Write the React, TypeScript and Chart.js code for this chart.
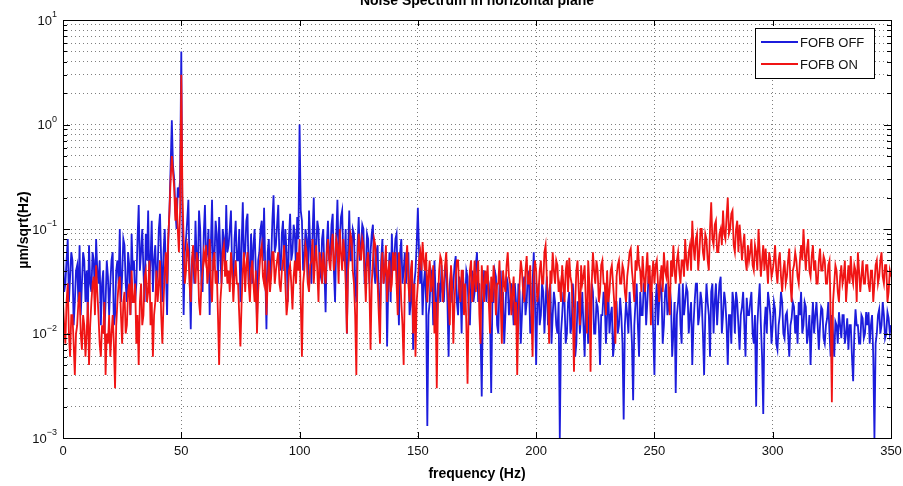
import React, { useEffect, useRef } from 'react';
import { Chart, registerables } from 'chart.js';

Chart.register(...registerables);

const TITLE = 'Noise Spectrum in horizontal plane';
const X_LABEL = 'frequency (Hz)';
const Y_LABEL = 'µm/sqrt(Hz)';
const SERIES_NAMES = ['FOFB OFF', 'FOFB ON'];
const X_MIN = 0;
const X_MAX = 350;
const X_STEP = 50;
const Y_MIN = 0.001;
const Y_MAX = 10;
const Y_DECADE_EXPONENTS = [1, 0, -1, -2, -3];
const FREQ_START_HZ = 0;
const FREQ_STEP_HZ = 0.5;

// amplitude spectrum, FOFB OFF (µm/sqrt(Hz)), one value per 0.5 Hz from 0 to 350 Hz (10 Hz per row)
const FOFB_OFF = [
  0.06, 0.025, 0.03, 0.05, 0.08, 0.02, 0.035, 0.06, 0.05, 0.012, 0.02, 0.04, 0.045, 0.02, 0.07, 0.015, 0.03, 0.06, 0.05, 0.02,
  0.04, 0.015, 0.07, 0.03, 0.025, 0.06, 0.05, 0.02, 0.08, 0.04, 0.03, 0.05, 0.012, 0.03, 0.04, 0.01, 0.02, 0.05, 0.035, 0.015,
  0.03, 0.05, 0.06, 0.012, 0.015, 0.04, 0.05, 0.03, 0.1, 0.02, 0.035, 0.08, 0.07, 0.03, 0.02, 0.06, 0.045, 0.015, 0.09, 0.04,
  0.05, 0.02, 0.03, 0.08, 0.17, 0.04, 0.06, 0.1, 0.04, 0.02, 0.09, 0.05, 0.15, 0.03, 0.05, 0.12, 0.025, 0.05, 0.07, 0.03,
  0.04, 0.1, 0.14, 0.05, 0.02, 0.06, 0.1, 0.04, 0.015, 0.08, 0.15, 0.4, 1.1, 0.4, 0.3, 0.15, 0.1, 0.25, 0.2, 0.3,
  5.0, 0.1, 0.015, 0.06, 0.08, 0.12, 0.19, 0.04, 0.011, 0.05, 0.06, 0.03, 0.12, 0.05, 0.04, 0.15, 0.1, 0.03, 0.025, 0.09,
  0.17, 0.05, 0.06, 0.1, 0.015, 0.07, 0.19, 0.04, 0.05, 0.12, 0.09, 0.03, 0.13, 0.06, 0.03, 0.1, 0.08, 0.04, 0.17, 0.06,
  0.07, 0.1, 0.15, 0.04, 0.03, 0.08, 0.12, 0.05, 0.05, 0.1, 0.02, 0.07, 0.18, 0.05, 0.06, 0.12, 0.14, 0.03, 0.04, 0.09,
  0.03, 0.07, 0.1, 0.04, 0.013, 0.05, 0.06, 0.1, 0.12, 0.05, 0.16, 0.04, 0.011, 0.06, 0.08, 0.03, 0.05, 0.12, 0.21, 0.06,
  0.07, 0.11, 0.17, 0.05, 0.04, 0.09, 0.12, 0.04, 0.1, 0.06, 0.02, 0.08, 0.14, 0.05, 0.06, 0.11, 0.09, 0.04, 0.13, 0.08,
  1.0, 0.15, 0.12, 0.04, 0.05, 0.1, 0.08, 0.03, 0.15, 0.07, 0.03, 0.09, 0.2, 0.05, 0.06, 0.12, 0.1, 0.04, 0.035, 0.08,
  0.1, 0.04, 0.016, 0.07, 0.12, 0.05, 0.06, 0.11, 0.14, 0.04, 0.02, 0.08, 0.19, 0.06, 0.08, 0.13, 0.15, 0.05, 0.05, 0.1,
  0.01, 0.06, 0.15, 0.05, 0.05, 0.1, 0.09, 0.03, 0.02, 0.07, 0.13, 0.05, 0.07, 0.11, 0.1, 0.03, 0.04, 0.09, 0.08, 0.03,
  0.06, 0.09, 0.11, 0.04, 0.03, 0.06, 0.07, 0.02, 0.015, 0.05, 0.08, 0.03, 0.04, 0.06, 0.0075, 0.03, 0.06, 0.02, 0.09, 0.04,
  0.05, 0.08, 0.09, 0.03, 0.012, 0.06, 0.08, 0.03, 0.04, 0.06, 0.03, 0.05, 0.06, 0.015, 0.02, 0.05, 0.007, 0.03, 0.04, 0.07,
  0.16, 0.06, 0.03, 0.05, 0.015, 0.03, 0.04, 0.02, 0.0013, 0.015, 0.02, 0.04, 0.035, 0.012, 0.05, 0.025, 0.01, 0.03, 0.03, 0.02,
  0.045, 0.025, 0.02, 0.04, 0.05, 0.02, 0.006, 0.03, 0.04, 0.02, 0.03, 0.045, 0.055, 0.02, 0.015, 0.035, 0.03, 0.01, 0.04, 0.025,
  0.02, 0.04, 0.035, 0.015, 0.012, 0.03, 0.04, 0.02, 0.025, 0.045, 0.06, 0.02, 0.03, 0.01, 0.0025, 0.02, 0.04, 0.03, 0.02, 0.035,
  0.03, 0.015, 0.0027, 0.02, 0.02, 0.04, 0.035, 0.012, 0.01, 0.03, 0.04, 0.02, 0.025, 0.008, 0.015, 0.035, 0.03, 0.015, 0.02, 0.03,
  0.02, 0.012, 0.03, 0.02, 0.01, 0.03, 0.025, 0.008, 0.015, 0.03, 0.035, 0.015, 0.02, 0.04, 0.03, 0.01, 0.012, 0.03, 0.06, 0.02,
  0.005, 0.02, 0.03, 0.012, 0.015, 0.03, 0.025, 0.01, 0.02, 0.035, 0.012, 0.025, 0.03, 0.008, 0.015, 0.025, 0.02, 0.012, 0.01, 0.02,
  0.001, 0.01, 0.015, 0.025, 0.02, 0.008, 0.01, 0.02, 0.025, 0.01, 0.012, 0.03, 0.018, 0.006, 0.008, 0.02, 0.02, 0.01, 0.015, 0.025,
  0.012, 0.006, 0.02, 0.015, 0.008, 0.02, 0.015, 0.03, 0.025, 0.01, 0.01, 0.02, 0.018, 0.012, 0.005, 0.015, 0.015, 0.025, 0.02, 0.008,
  0.015, 0.025, 0.01, 0.015, 0.018, 0.006, 0.008, 0.02, 0.02, 0.01, 0.012, 0.022, 0.015, 0.008, 0.0015, 0.012, 0.02, 0.015, 0.01, 0.025,
  0.015, 0.008, 0.0023, 0.012, 0.02, 0.03, 0.012, 0.006, 0.025, 0.015, 0.015, 0.03, 0.03, 0.012, 0.02, 0.035, 0.035, 0.015, 0.025, 0.01,
  0.004, 0.02, 0.03, 0.012, 0.02, 0.03, 0.025, 0.008, 0.012, 0.025, 0.03, 0.015, 0.018, 0.028, 0.02, 0.006, 0.01, 0.02, 0.0027, 0.015,
  0.02, 0.03, 0.012, 0.008, 0.03, 0.015, 0.02, 0.028, 0.025, 0.01, 0.015, 0.02, 0.005, 0.012, 0.02, 0.03, 0.03, 0.012, 0.015, 0.025,
  0.02, 0.01, 0.004, 0.015, 0.03, 0.02, 0.015, 0.006, 0.025, 0.03, 0.01, 0.02, 0.03, 0.012, 0.02, 0.03, 0.035, 0.01, 0.015, 0.025,
  0.02, 0.012, 0.005, 0.015, 0.015, 0.008, 0.025, 0.02, 0.01, 0.025, 0.02, 0.012, 0.007, 0.015, 0.018, 0.025, 0.012, 0.006, 0.022, 0.015,
  0.015, 0.02, 0.025, 0.01, 0.008, 0.015, 0.002, 0.012, 0.02, 0.03, 0.012, 0.006, 0.0017, 0.012, 0.018, 0.01, 0.025, 0.02, 0.015, 0.008,
  0.012, 0.02, 0.017, 0.008, 0.007, 0.012, 0.015, 0.025, 0.02, 0.01, 0.009, 0.015, 0.016, 0.01, 0.006, 0.012, 0.014, 0.02, 0.018, 0.01,
  0.015, 0.008, 0.02, 0.015, 0.025, 0.01, 0.012, 0.02, 0.018, 0.008, 0.01, 0.015, 0.005, 0.012, 0.02, 0.01, 0.015, 0.02, 0.012, 0.007,
  0.012, 0.018, 0.017, 0.009, 0.008, 0.012, 0.014, 0.02, 0.01, 0.006, 0.015, 0.01, 0.006, 0.013, 0.012, 0.008, 0.016, 0.012, 0.009, 0.015,
  0.015, 0.008, 0.01, 0.014, 0.007, 0.012, 0.012, 0.006, 0.0035, 0.01, 0.017, 0.012, 0.012, 0.008, 0.008, 0.015, 0.014, 0.009, 0.01, 0.016,
  0.012, 0.016, 0.008, 0.012, 0.015, 0.006, 0.001, 0.008, 0.01, 0.015, 0.017, 0.01, 0.012, 0.02, 0.015, 0.009, 0.01, 0.016, 0.014, 0.01,
  0.012,
];

// amplitude spectrum, FOFB ON (µm/sqrt(Hz)), one value per 0.5 Hz from 0 to 350 Hz (10 Hz per row)
const FOFB_ON = [
  0.02, 0.012, 0.008, 0.02, 0.03, 0.01, 0.006, 0.015, 0.015, 0.008, 0.004, 0.01, 0.012, 0.02, 0.025, 0.01, 0.007, 0.015, 0.012, 0.006,
  0.01, 0.02, 0.005, 0.012, 0.02, 0.03, 0.035, 0.015, 0.045, 0.025, 0.015, 0.008, 0.006, 0.012, 0.01, 0.02, 0.004, 0.01, 0.008, 0.015,
  0.006, 0.01, 0.015, 0.008, 0.003, 0.012, 0.02, 0.03, 0.035, 0.015, 0.008, 0.02, 0.025, 0.01, 0.012, 0.025, 0.03, 0.015, 0.04, 0.02,
  0.02, 0.03, 0.008, 0.015, 0.005, 0.02, 0.03, 0.012, 0.015, 0.035, 0.04, 0.02, 0.025, 0.05, 0.012, 0.02, 0.006, 0.015, 0.02, 0.04,
  0.02, 0.03, 0.05, 0.015, 0.008, 0.02, 0.04, 0.06, 0.03, 0.08, 0.15, 0.3, 0.5, 0.35, 0.25, 0.12, 0.2, 0.1, 0.06, 0.15,
  3.0, 0.2, 0.08, 0.03, 0.04, 0.07, 0.06, 0.03, 0.02, 0.05, 0.07, 0.04, 0.03, 0.06, 0.05, 0.02, 0.015, 0.03, 0.04, 0.06,
  0.05, 0.07, 0.03, 0.04, 0.08, 0.03, 0.02, 0.05, 0.06, 0.03, 0.04, 0.015, 0.005, 0.02, 0.03, 0.06, 0.07, 0.035, 0.05, 0.03,
  0.04, 0.025, 0.06, 0.04, 0.02, 0.035, 0.05, 0.03, 0.03, 0.015, 0.0075, 0.02, 0.04, 0.06, 0.025, 0.045, 0.06, 0.03, 0.02, 0.04,
  0.05, 0.03, 0.02, 0.04, 0.01, 0.025, 0.04, 0.06, 0.07, 0.035, 0.03, 0.05, 0.015, 0.03, 0.05, 0.025, 0.035, 0.06, 0.06, 0.03,
  0.04, 0.05, 0.06, 0.03, 0.025, 0.04, 0.05, 0.07, 0.03, 0.015, 0.02, 0.04, 0.045, 0.03, 0.017, 0.035, 0.05, 0.03, 0.06, 0.04,
  0.08, 0.02, 0.006, 0.03, 0.04, 0.07, 0.06, 0.03, 0.025, 0.045, 0.05, 0.08, 0.03, 0.05, 0.07, 0.04, 0.02, 0.06, 0.05, 0.03,
  0.06, 0.04, 0.03, 0.06, 0.08, 0.05, 0.04, 0.07, 0.09, 0.04, 0.05, 0.08, 0.07, 0.03, 0.1, 0.06, 0.04, 0.08, 0.06, 0.03,
  0.01, 0.04, 0.06, 0.09, 0.08, 0.04, 0.03, 0.015, 0.004, 0.05, 0.09, 0.06, 0.05, 0.08, 0.07, 0.04, 0.02, 0.05, 0.06, 0.03,
  0.007, 0.03, 0.05, 0.08, 0.07, 0.04, 0.03, 0.015, 0.008, 0.04, 0.06, 0.03, 0.04, 0.07, 0.02, 0.04, 0.05, 0.025, 0.03, 0.06,
  0.04, 0.06, 0.03, 0.015, 0.06, 0.04, 0.02, 0.012, 0.005, 0.03, 0.05, 0.07, 0.03, 0.02, 0.04, 0.05, 0.01, 0.03, 0.006, 0.02,
  0.03, 0.05, 0.06, 0.04, 0.075, 0.05, 0.04, 0.06, 0.02, 0.035, 0.05, 0.025, 0.03, 0.045, 0.01, 0.02, 0.003, 0.02, 0.04, 0.055,
  0.05, 0.02, 0.03, 0.045, 0.06, 0.03, 0.02, 0.012, 0.045, 0.03, 0.008, 0.02, 0.035, 0.05, 0.05, 0.025, 0.02, 0.04, 0.04, 0.015,
  0.03, 0.012, 0.0033, 0.02, 0.04, 0.05, 0.02, 0.03, 0.05, 0.025, 0.035, 0.05, 0.015, 0.008, 0.045, 0.03, 0.02, 0.04, 0.03, 0.045,
  0.02, 0.01, 0.035, 0.02, 0.045, 0.03, 0.015, 0.03, 0.03, 0.05, 0.02, 0.008, 0.04, 0.03, 0.025, 0.045, 0.06, 0.035, 0.03, 0.015,
  0.025, 0.035, 0.012, 0.02, 0.004, 0.015, 0.03, 0.05, 0.04, 0.025, 0.02, 0.04, 0.055, 0.03, 0.03, 0.045, 0.015, 0.006, 0.035, 0.05,
  0.04, 0.02, 0.025, 0.04, 0.05, 0.03, 0.03, 0.06, 0.07, 0.035, 0.02, 0.008, 0.04, 0.03, 0.06, 0.04, 0.03, 0.05, 0.045, 0.025,
  0.03, 0.02, 0.045, 0.03, 0.02, 0.04, 0.05, 0.025, 0.053, 0.035, 0.03, 0.015, 0.0043, 0.02, 0.04, 0.05, 0.025, 0.012, 0.045, 0.03,
  0.035, 0.045, 0.02, 0.01, 0.05, 0.03, 0.0043, 0.03, 0.06, 0.04, 0.03, 0.05, 0.04, 0.02, 0.025, 0.045, 0.05, 0.03, 0.03, 0.015,
  0.04, 0.02, 0.025, 0.04, 0.045, 0.03, 0.02, 0.008, 0.035, 0.045, 0.05, 0.03, 0.03, 0.045, 0.04, 0.025, 0.02, 0.035, 0.045, 0.06,
  0.065, 0.04, 0.03, 0.02, 0.05, 0.04, 0.07, 0.045, 0.04, 0.025, 0.055, 0.035, 0.025, 0.04, 0.06, 0.03, 0.045, 0.012, 0.035, 0.05,
  0.03, 0.045, 0.05, 0.03, 0.02, 0.035, 0.045, 0.025, 0.06, 0.04, 0.035, 0.05, 0.025, 0.015, 0.05, 0.035, 0.07, 0.04, 0.03, 0.05,
  0.06, 0.04, 0.03, 0.05, 0.05, 0.035, 0.08, 0.05, 0.04, 0.06, 0.07, 0.04, 0.12, 0.07, 0.05, 0.08, 0.09, 0.04, 0.06, 0.1,
  0.1, 0.06, 0.05, 0.09, 0.08, 0.05, 0.04, 0.1, 0.18, 0.08, 0.07, 0.11, 0.12, 0.06, 0.06, 0.09, 0.1, 0.07, 0.15, 0.09,
  0.08, 0.13, 0.2, 0.09, 0.1, 0.14, 0.15, 0.07, 0.06, 0.1, 0.12, 0.06, 0.11, 0.08, 0.05, 0.07, 0.09, 0.05, 0.04, 0.07,
  0.05, 0.06, 0.08, 0.045, 0.04, 0.07, 0.06, 0.04, 0.1, 0.06, 0.035, 0.05, 0.07, 0.04, 0.065, 0.045, 0.03, 0.06, 0.05, 0.035,
  0.04, 0.05, 0.07, 0.04, 0.03, 0.05, 0.06, 0.035, 0.025, 0.04, 0.05, 0.03, 0.035, 0.05, 0.065, 0.03, 0.02, 0.04, 0.045, 0.06,
  0.05, 0.035, 0.03, 0.05, 0.07, 0.05, 0.1, 0.06, 0.04, 0.065, 0.08, 0.04, 0.035, 0.055, 0.07, 0.04, 0.05, 0.03, 0.03, 0.05,
  0.065, 0.04, 0.04, 0.055, 0.05, 0.03, 0.03, 0.045, 0.05, 0.015, 0.0022, 0.02, 0.03, 0.045, 0.04, 0.025, 0.02, 0.035, 0.045, 0.03,
  0.035, 0.05, 0.02, 0.03, 0.045, 0.03, 0.055, 0.035, 0.03, 0.045, 0.04, 0.02, 0.06, 0.04, 0.025, 0.035, 0.05, 0.03, 0.03, 0.045,
  0.045, 0.03, 0.025, 0.04, 0.04, 0.02, 0.03, 0.045, 0.05, 0.03, 0.035, 0.05, 0.06, 0.035, 0.03, 0.045, 0.045, 0.02, 0.025, 0.04,
  0.035,
];

const COLOR_OFF = '#1c1cdc';
const COLOR_ON = '#f01414';
const FONT = '"Liberation Sans", Arial, sans-serif';

const toPoints = (vals: number[]) =>
  vals.map((v, i) => ({ x: FREQ_START_HZ + i * FREQ_STEP_HZ, y: v }));

const decorPlugin = {
  id: 'matlabDecor',
  afterDraw(chart: any) {
    const { ctx, chartArea } = chart;
    const { left, right, top, bottom } = chartArea;
    const xs = chart.scales.x;
    const ys = chart.scales.y;
    ctx.save();

    // frame
    ctx.strokeStyle = '#000';
    ctx.lineWidth = 1;
    ctx.setLineDash([]);
    ctx.strokeRect(Math.round(left) + 0.5, Math.round(top) + 0.5, Math.round(right - left), Math.round(bottom - top));

    // inward ticks on x
    ctx.beginPath();
    for (let v = X_MIN; v <= X_MAX; v += X_STEP) {
      const px = Math.round(xs.getPixelForValue(v)) + 0.5;
      ctx.moveTo(px, bottom);
      ctx.lineTo(px, bottom - 6);
      ctx.moveTo(px, top);
      ctx.lineTo(px, top + 6);
    }
    // inward ticks on y (major and minor)
    for (let e = -3; e < 1; e++) {
      for (let m = 1; m < 10; m++) {
        const py = Math.round(ys.getPixelForValue(m * Math.pow(10, e))) + 0.5;
        const len = m === 1 ? 7 : 4;
        ctx.moveTo(left, py);
        ctx.lineTo(left + len, py);
        ctx.moveTo(right, py);
        ctx.lineTo(right - len, py);
      }
    }
    ctx.stroke();

    // y tick labels 10^n
    ctx.fillStyle = '#111';
    Y_DECADE_EXPONENTS.forEach((e) => {
      const py = ys.getPixelForValue(Math.pow(10, e));
      const expText = String(e).replace('-', '\u2212');
      ctx.font = `9px ${FONT}`;
      const ew = ctx.measureText(expText).width;
      const rx = left - 6;
      ctx.textAlign = 'left';
      ctx.textBaseline = 'alphabetic';
      ctx.fillText(expText, rx - ew, py - 3);
      ctx.font = `13px ${FONT}`;
      ctx.textAlign = 'right';
      ctx.textBaseline = 'middle';
      ctx.fillText('10', rx - ew, py + 1);
    });

    // title (partly cut off at the top, as in the source)
    ctx.fillStyle = '#000';
    ctx.font = `bold 14px ${FONT}`;
    ctx.textAlign = 'center';
    ctx.textBaseline = 'alphabetic';
    ctx.fillText(TITLE, (left + right) / 2, 5);

    // x axis title
    ctx.textBaseline = 'middle';
    ctx.fillText(X_LABEL, (left + right) / 2, 474);

    // y axis title
    ctx.save();
    ctx.translate(24, 230);
    ctx.rotate(-Math.PI / 2);
    ctx.fillText(Y_LABEL, 0, 0);
    ctx.restore();

    // legend
    const lx = 755.5, ly = 28.5, lw = 119, lh = 50;
    ctx.fillStyle = '#fff';
    ctx.fillRect(lx, ly, lw, lh);
    ctx.strokeStyle = '#000';
    ctx.lineWidth = 1;
    ctx.strokeRect(lx, ly, lw, lh);
    const entries = [
      { name: SERIES_NAMES[0], color: COLOR_OFF, y: 42 },
      { name: SERIES_NAMES[1], color: COLOR_ON, y: 64 },
    ];
    entries.forEach((en) => {
      ctx.strokeStyle = en.color;
      ctx.lineWidth = 2;
      ctx.beginPath();
      ctx.moveTo(761, en.y);
      ctx.lineTo(798, en.y);
      ctx.stroke();
      ctx.fillStyle = '#111';
      ctx.font = `13px ${FONT}`;
      ctx.textAlign = 'left';
      ctx.textBaseline = 'middle';
      ctx.fillText(en.name, 800, en.y + 1);
    });

    ctx.restore();
  },
};

export default function App() {
  const ref = useRef<HTMLCanvasElement | null>(null);

  useEffect(() => {
    if (!ref.current) return;
    const gridColor = 'rgba(0,0,0,0.5)';
    const chart = new Chart(ref.current, {
      type: 'line',
      data: {
        datasets: [
          {
            label: SERIES_NAMES[0],
            data: toPoints(FOFB_OFF),
            borderColor: COLOR_OFF,
            backgroundColor: COLOR_OFF,
            borderWidth: 1.8,
            pointRadius: 0,
            tension: 0,
            fill: false,
            order: 2,
          },
          {
            label: SERIES_NAMES[1],
            data: toPoints(FOFB_ON),
            borderColor: COLOR_ON,
            backgroundColor: COLOR_ON,
            borderWidth: 1.8,
            pointRadius: 0,
            tension: 0,
            fill: false,
            order: 1,
          },
        ],
      },
      options: {
        responsive: false,
        animation: false,
        devicePixelRatio: 1,
        layout: { padding: { top: 20, right: 12, left: 0, bottom: 0 } },
        plugins: {
          legend: { display: false },
          title: { display: false },
          tooltip: { enabled: false },
        },
        scales: {
          x: {
            type: 'linear',
            min: X_MIN,
            max: X_MAX,
            ticks: {
              stepSize: X_STEP,
              color: '#111',
              font: { family: FONT, size: 13 },
              padding: 6,
              maxRotation: 0,
              autoSkip: false,
            },
            grid: { color: gridColor, lineWidth: 1, drawTicks: false },
            border: { display: false, dash: [1, 3] },
            afterFit: (s: any) => {
              s.height = 48;
              s.paddingLeft = 0;
              s.paddingRight = 0;
            },
          },
          y: {
            type: 'logarithmic',
            min: Y_MIN,
            max: Y_MAX,
            ticks: { display: false },
            grid: { color: gridColor, lineWidth: 1, drawTicks: false },
            border: { display: false, dash: [1, 3] },
            afterBuildTicks: (s: any) => {
              const t: { value: number }[] = [];
              for (let e = -3; e < 1; e++) {
                for (let m = 1; m < 10; m++) t.push({ value: m * Math.pow(10, e) });
              }
              t.push({ value: Y_MAX });
              s.ticks = t;
            },
            afterFit: (s: any) => {
              s.width = 63;
              s.paddingTop = 0;
              s.paddingBottom = 0;
            },
          },
        },
      },
      plugins: [decorPlugin],
    } as any);
    return () => chart.destroy();
  }, []);

  return (
    <div style={{ position: 'absolute', left: 0, top: 0, width: 903, height: 486, background: '#fff' }}>
      <canvas ref={ref} width={903} height={486} style={{ display: 'block' }} />
    </div>
  );
}
